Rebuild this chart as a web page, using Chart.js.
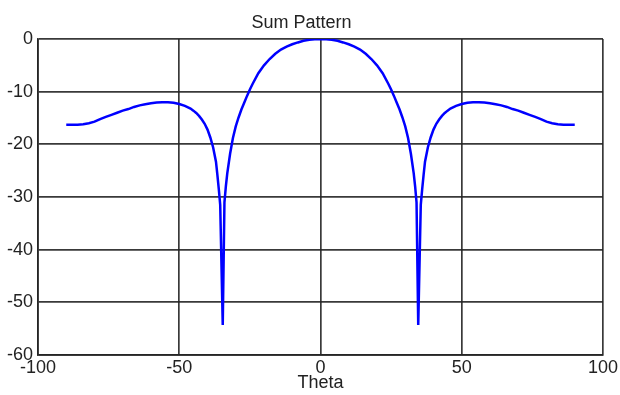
<!DOCTYPE html>
<html>
<head>
<meta charset="utf-8">
<script src="https://cdn.jsdelivr.net/npm/chart.js@4"></script>
<style>
html,body{margin:0;padding:0;background:#fff;}
#wrap{width:620px;height:395px;}
</style>
</head>
<body>
<div id="wrap"><canvas id="patternChart" width="620" height="395"></canvas></div>
<script>

/* =====================
   Data
===================== */

const thetaDeg=[
-90,-88,-86,-84,-82,-80,-78,-76,-74,-72,-70,-68,-66,-64,-62,-60,-58,-56,-54,-52,-50,-48,-46,-45,-44,-43,-42,-41,-40,-39,-38,-37,-36.5,-36,-35.5,-34.6,-34,-33.5,-33,-32,-31,-30,-29,-28,-27,-26,-25,-24,-22,-20,-18,-16,-14,-12,-10,-8,-6,-4,-2,0,
2,4,6,8,10,12,14,16,18,20,22,24,25,26,27,28,29,30,31,32,33,33.5,34,34.6,35.5,36,36.5,37,38,39,40,41,42,43,44,45,46,48,50,52,54,56,58,60,62,64,66,68,70,72,74,76,78,80,82,84,86,88,90
];

const gainDb=[
-16.3,-16.3,-16.3,-16.2,-16.0,-15.7,-15.2,-14.8,-14.4,-14.0,-13.6,-13.3,-12.9,-12.6,-12.4,-12.2,-12.05,-12.0,-12.0,-12.1,-12.35,-12.7,-13.2,-13.6,-14.05,-14.6,-15.3,-16.1,-17.2,-18.7,-20.6,-23.3,-25.8,-28.5,-31.5,-54.3,-31.0,-28.0,-25.5,-21.8,-18.8,-16.6,-14.9,-13.4,-12.1,-10.8,-9.6,-8.5,-6.5,-5.0,-3.8,-2.8,-2.0,-1.45,-1.0,-0.65,-0.35,-0.15,-0.04,0,
-0.04,-0.15,-0.35,-0.65,-1.0,-1.45,-2.0,-2.8,-3.8,-5.0,-6.5,-8.5,-9.6,-10.8,-12.1,-13.4,-14.9,-16.6,-18.8,-21.8,-25.5,-28.0,-31.0,-54.3,-31.5,-28.5,-25.8,-23.3,-20.6,-18.7,-17.2,-16.1,-15.3,-14.6,-14.05,-13.6,-13.2,-12.7,-12.35,-12.1,-12.0,-12.0,-12.05,-12.2,-12.4,-12.6,-12.9,-13.3,-13.6,-14.0,-14.4,-14.8,-15.2,-15.7,-16.0,-16.2,-16.3,-16.3,-16.3
];

const xTicks=[-100,-50,0,50,100];
const yTicks=[-60,-50,-40,-30,-20,-10,0];

const chartTitle="Sum Pattern";
const xLabel="Theta";



/* =====================
   Chart
===================== */

const fontFamily="'Liberation Sans', Arial, Helvetica, sans-serif";

const gridColor="rgba(35,35,35,0.9)";

const points=thetaDeg.map((t,i)=>({x:t,y:gainDb[i]}));

const ctx=document.getElementById("patternChart").getContext("2d");

let patternChart=new Chart(ctx,{

type:"line",

data:{
datasets:[
{
label:chartTitle,
data:points,
borderColor:"#0000ff",
borderWidth:2.5,
pointRadius:0,
tension:0,
fill:false
}
]
},

options:{
responsive:false,
animation:false,
layout:{padding:{left:0,right:17,top:0,bottom:0}},
plugins:{
legend:{display:false},
tooltip:{enabled:false},
title:{
display:true,
text:chartTitle,
color:"#222",
font:{family:fontFamily,size:18,weight:"normal"},
padding:{top:12,bottom:5.4}
}
},
scales:{
x:{
type:"linear",
min:-100,
max:100,
afterBuildTicks:axis=>{axis.ticks=xTicks.map(v=>({value:v}));},
afterFit:axis=>{axis.height=40;},
grid:{color:gridColor,lineWidth:1.7,drawTicks:false},
border:{color:gridColor,width:1.7},
ticks:{color:"#222",padding:2,maxRotation:0,font:{family:fontFamily,size:18}},
title:{display:true,text:xLabel,color:"#222",font:{family:fontFamily,size:18},padding:{top:0,bottom:1}}
},
y:{
type:"linear",
min:-60,
max:0,
afterBuildTicks:axis=>{axis.ticks=yTicks.map(v=>({value:v}));},
afterFit:axis=>{axis.width=38;},
grid:{color:gridColor,lineWidth:1.7,drawTicks:false},
border:{color:gridColor,width:1.7},
ticks:{color:"#222",padding:5,font:{family:fontFamily,size:18}}
}
}
}

});

</script>
</body>
</html>
